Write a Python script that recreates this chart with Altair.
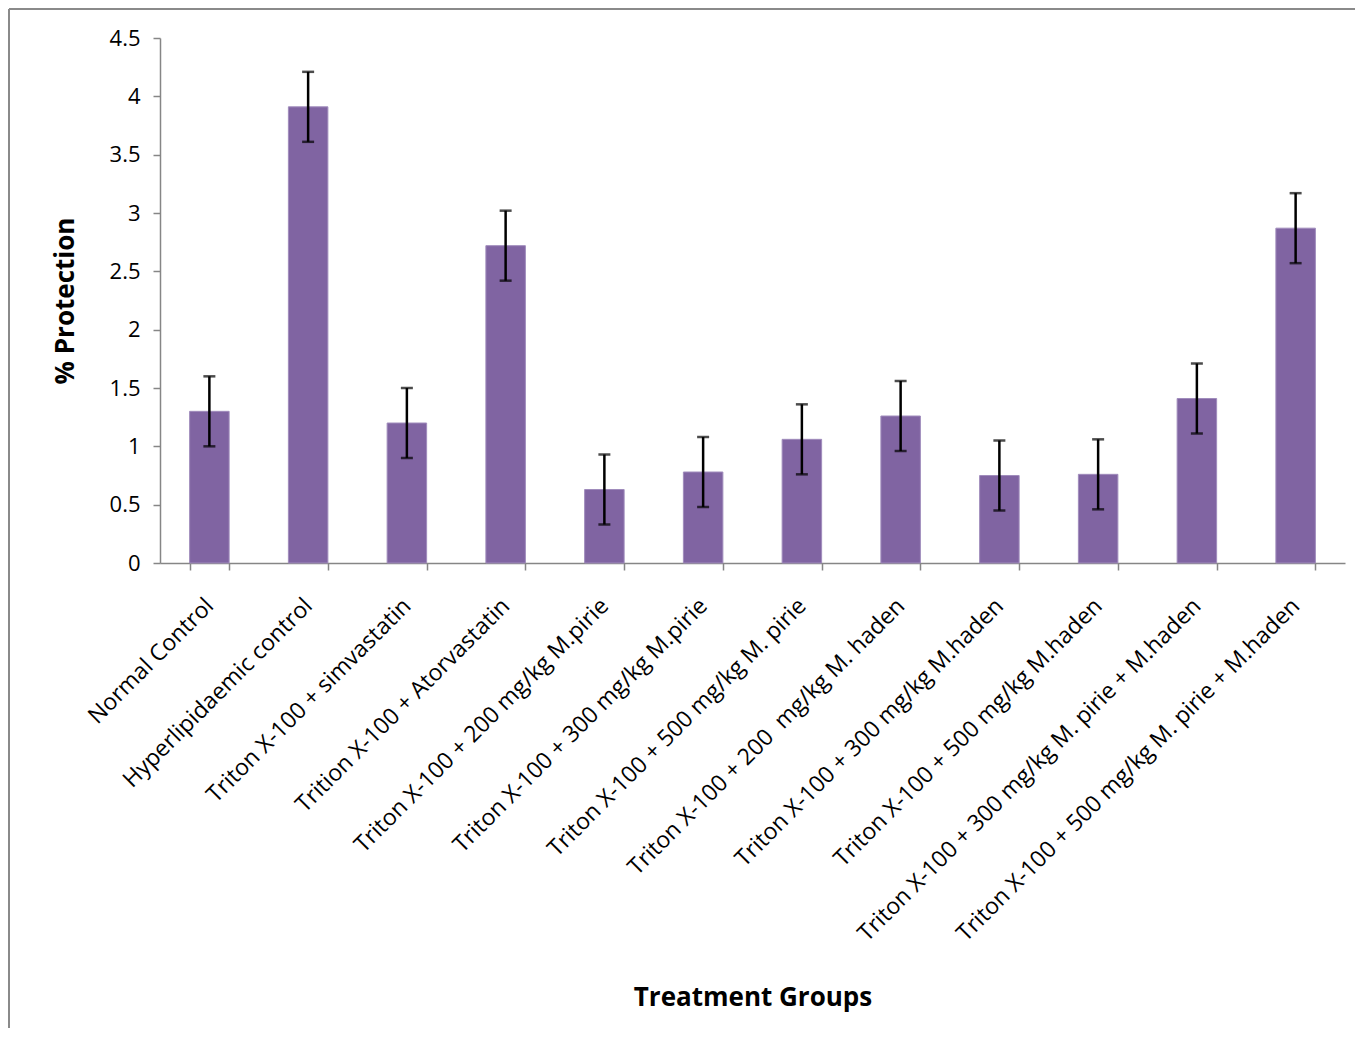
import altair as alt
import pandas as pd

groups = [
    "Normal Control",
    "Hyperlipidaemic control",
    "Triton X-100 + simvastatin",
    "Trition X-100 + Atorvastatin",
    "Triton X-100 + 200 mg/kg M.pirie",
    "Triton X-100 + 300 mg/kg M.pirie",
    "Triton X-100 + 500 mg/kg M. pirie",
    "Triton X-100 + 200 \u00a0mg/kg M. haden",
    "Triton X-100 + 300 mg/kg M.haden",
    "Triton X-100 + 500 mg/kg M.haden",
    "Triton X-100 + 300 mg/kg M. pirie + M.haden",
    "Triton X-100 + 500 mg/kg M. pirie + M.haden",
]
values = [1.30, 3.91, 1.20, 2.72, 0.63, 0.78, 1.06, 1.26, 0.75, 0.76, 1.41, 2.87]
errors = [0.30, 0.30, 0.30, 0.30, 0.30, 0.30, 0.30, 0.30, 0.30, 0.30, 0.30, 0.30]

df = pd.DataFrame({"group": groups, "value": values, "err": errors})
df["lo"] = df["value"] - df["err"]
df["hi"] = df["value"] + df["err"]

FONT = "Open Sans"
GRAY = "#868686"

x_enc = alt.X(
    "group:N",
    sort=groups,
    scale=alt.Scale(paddingInner=0.6, paddingOuter=0.3),
    axis=alt.Axis(
        title="Treatment Groups",
        labelAngle=-45,
        labelAlign="right",
        labelBaseline="middle",
        labelFontSize=23,
        labelFont=FONT,
        labelColor="black",
        labelPadding=32,
        labelLimit=0,
        tickBand="extent",
        tickSize=7,
        tickColor=GRAY,
        tickWidth=1.5,
        domainColor=GRAY,
        domainWidth=1.5,
        titleFont=FONT,
        titleFontSize=26,
        titleFontWeight="bold",
        titleColor="black",
        titleBaseline="middle",
        titleY=434,
    ),
)

y_scale = alt.Scale(domain=[0, 4.5], nice=False)
y_axis = alt.Axis(
    title="% Protection",
    values=[0, 0.5, 1, 1.5, 2, 2.5, 3, 3.5, 4, 4.5],
    labelExpr="datum.value",
    grid=False,
    labelFontSize=22,
    labelFont=FONT,
    labelColor="black",
    labelPadding=13,
    tickSize=7,
    tickColor=GRAY,
    tickWidth=1.5,
    domainColor=GRAY,
    domainWidth=1.5,
    titleFont=FONT,
    titleFontSize=26,
    titleFontWeight="bold",
    titleColor="black",
    titleBaseline="middle",
    titleX=-95,
)

base = alt.Chart(df)

bars = base.mark_bar(color="#8064A2", stroke="#A08CBC", strokeWidth=1).encode(
    x=x_enc,
    y=alt.Y("value:Q", scale=y_scale, axis=y_axis),
)

rules = base.mark_rule(color="black", strokeWidth=2.5).encode(
    x=alt.X("group:N", sort=groups),
    y="lo:Q",
    y2="hi:Q",
)

caps_hi = base.mark_tick(color="black", size=12, thickness=2.5, orient="horizontal").encode(
    x=alt.X("group:N", sort=groups),
    y="hi:Q",
)
caps_lo = base.mark_tick(color="black", size=12, thickness=2.5, orient="horizontal").encode(
    x=alt.X("group:N", sort=groups),
    y="lo:Q",
)

frame_df = pd.DataFrame({"k": [0]})
frame_left = alt.Chart(frame_df).mark_rule(color="#8a8a8a", strokeWidth=2).encode(
    x=alt.value(-151), y=alt.value(-29), y2=alt.value(990)
)
frame_top = alt.Chart(frame_df).mark_rule(color="#8a8a8a", strokeWidth=2).encode(
    x=alt.value(-151), x2=alt.value(1195), y=alt.value(-29)
)

chart = alt.layer(bars, rules, caps_hi, caps_lo, frame_left, frame_top).properties(
    width=1185, height=525, padding=0
).configure_view(stroke=None)

chart.save("out.html", embed_options={"renderer": "svg", "actions": False})
